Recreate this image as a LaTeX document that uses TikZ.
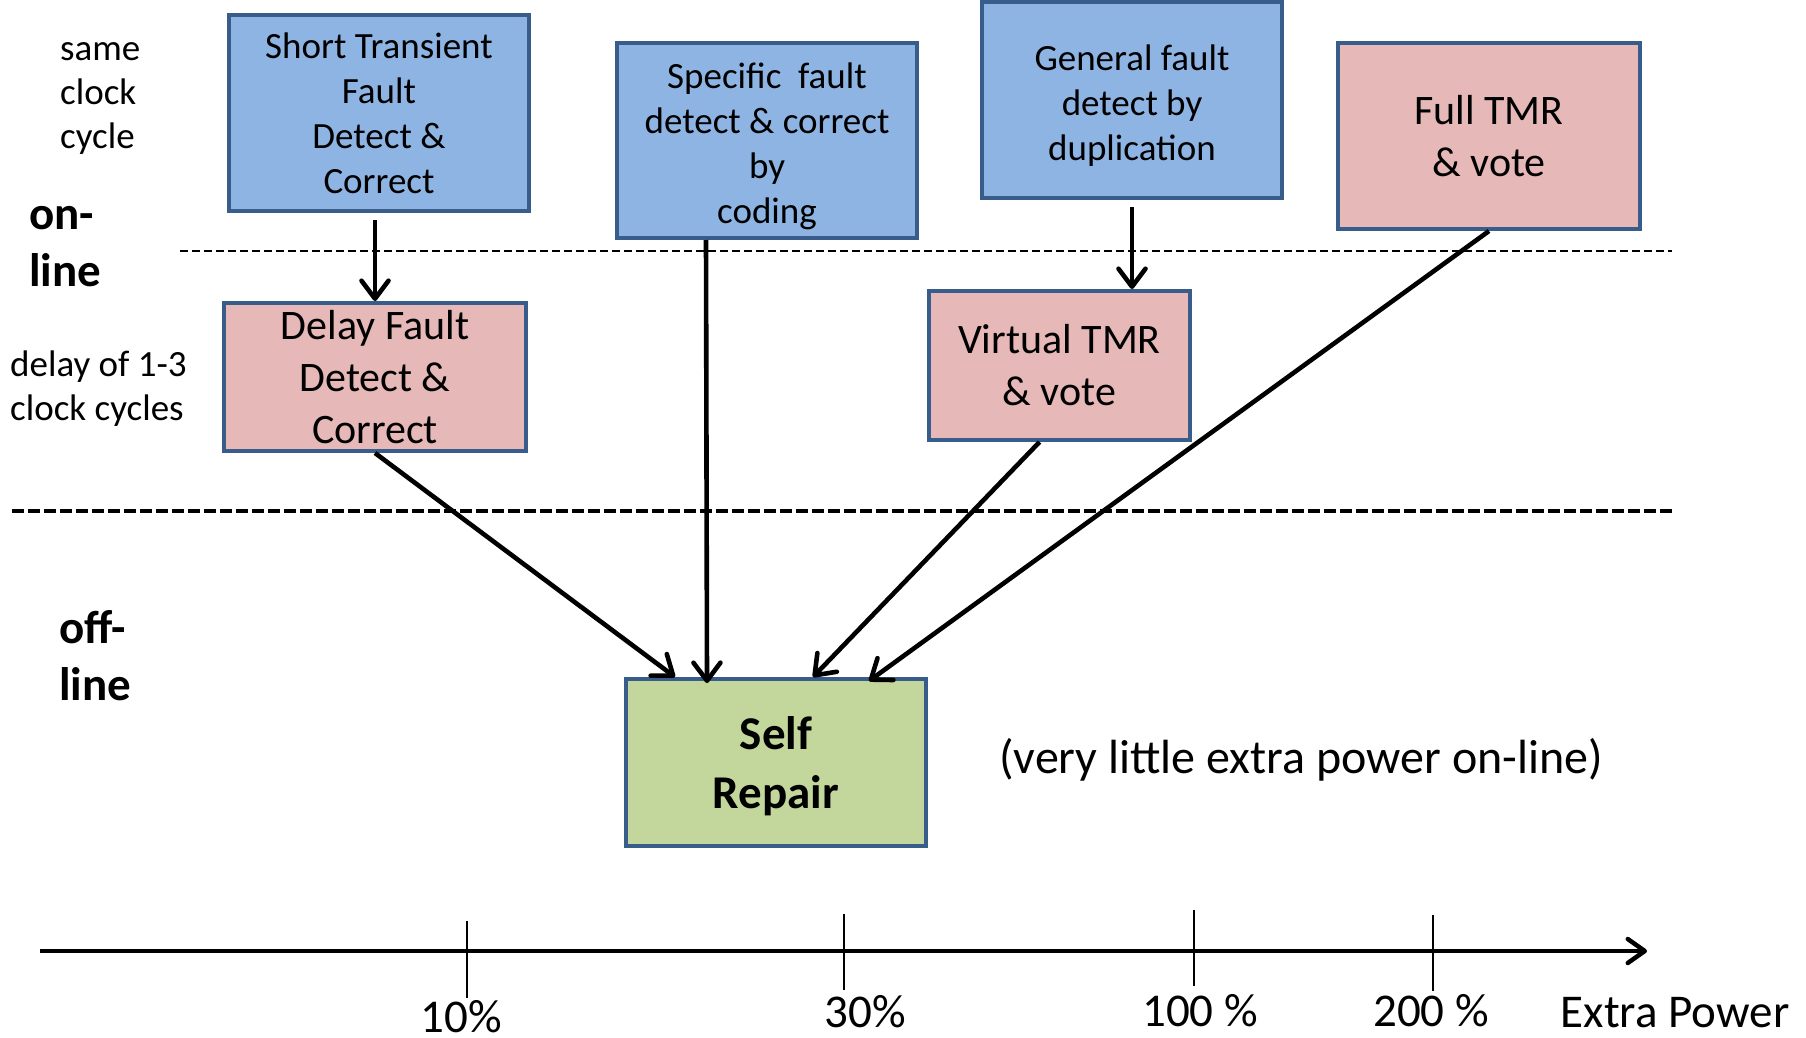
\documentclass[tikz,border=0pt]{standalone}
\usepackage{fontspec}
\setmainfont{Carlito}
\usetikzlibrary{arrows.meta,calc}
\definecolor{bordc}{RGB}{56,93,138}
\definecolor{bluef}{RGB}{142,180,227}
\definecolor{pinkf}{RGB}{230,185,184}
\definecolor{greenf}{RGB}{195,214,155}
\tikzset{
  box/.style={draw=bordc, line width=4pt, inner sep=0pt, align=center,
    font=\fontsize{37}{45}\selectfont},
  bluebox/.style={box, fill=bluef},
  pinkbox/.style={box, fill=pinkf, font=\fontsize{42}{52}\selectfont},
  greenbox/.style={box, fill=greenf, font=\bfseries\fontsize{47}{59}\selectfont},
  small/.style={inner sep=0pt, align=left, font=\fontsize{37}{44}\selectfont},
  big/.style={inner sep=0pt, align=left, font=\bfseries\fontsize{47}{57}\selectfont},
  axlbl/.style={inner sep=0pt, anchor=base, font=\fontsize{47}{56}\selectfont},
  conn/.style={line width=4.6pt, -{Straight Barb[length=18pt,width=27pt,round]}},
  tick/.style={line width=1.8pt},
}
\begin{document}
\begin{tikzpicture}[x=1pt,y=-1pt]
\useasboundingbox (0,0) rectangle (1806,1038);

% separating dashed lines
\coordinate (d1a) at (180,251);
\coordinate (d1b) at (1672,251);
\coordinate (d2a) at (12,511);
\coordinate (d2b) at (1672,511);
\draw[line width=2.2pt, dash pattern=on 8pt off 4pt] (d1a) -- (d1b);
\draw[line width=4.2pt, dash pattern=on 12pt off 4pt] (d2a) -- (d2b);

% boxes
\node[bluebox, minimum width=300pt, minimum height=196pt] (st) at (379,113)
  {Short Transient\\Fault\\Detect \&\\Correct};
\node[bluebox, minimum width=300pt, minimum height=195pt] (sf) at (767,140.5)
  {\rule{0pt}{37pt}Specific\ \ fault\\detect \& correct\\by\\coding};
\node[bluebox, minimum width=300pt, minimum height=196pt] (gf) at (1132,100)
  {\rule{0pt}{37pt}General fault\\detect by\\duplication};
\node[pinkbox, minimum width=302pt, minimum height=186pt] (ft) at (1489,136)
  {Full TMR\\\& vote};
\node[pinkbox, minimum width=302pt, minimum height=148pt] (df) at (375,377)
  {Delay Fault\\Detect \&\\Correct};
\node[pinkbox, minimum width=261pt, minimum height=149pt] (vt) at (1059.5,365.5)
  {Virtual TMR\\\& vote};
\node[greenbox, minimum width=300pt, minimum height=167pt] (sr) at (776,762.5)
  {\rule{0pt}{40pt}Self\\Repair};

% side labels
\node[small, anchor=west] (same) at (60,98) {same\\clock\\cycle};
\node[big, anchor=west] (on) at (29,247) {on-\\line};
\node[small, anchor=west] (dly) at (10,389) {delay of 1-3\\clock cycles};
\node[big, anchor=west] (off) at (59,656) {off-\\line};
\node[inner sep=0pt, anchor=west, font=\fontsize{48}{57}\selectfont] (note) at (999,760)
  {(very little extra power on-line)};

% connectors
\draw[conn] ($(st.south -| df.north)+(0,7)$) -- (df.north);
\draw[conn] ($(gf.south)+(0,7)$) -- (gf.south |- vt.north);
\draw[conn] (df.south) -- ($(sr.north)+(-101,0)$);
\draw[conn] ($(sf.south)+(-61,0)$) -- ($(sr.north)+(-69,6)$);
\draw[conn] ($(vt.south)+(-20,0)$) -- ($(sr.north)+(37,0)$);
\draw[conn] (ft.south) -- ($(sr.north)+(93,4)$);

% axis
\coordinate (ax0) at (40,951);
\coordinate (ax1) at (1647,951);
\draw[line width=4.5pt, -{Straight Barb[length=17pt,width=24pt,round]}] (ax0) -- (ax1);
\coordinate (t1a) at (467,921);  \coordinate (t1b) at (467,998);
\coordinate (t2a) at (844,914);  \coordinate (t2b) at (844,990);
\coordinate (t3a) at (1194,910); \coordinate (t3b) at (1194,986);
\coordinate (t4a) at (1433,915); \coordinate (t4b) at (1433,991);
\draw[tick] (t1a) -- (t1b);
\draw[tick] (t2a) -- (t2b);
\draw[tick] (t3a) -- (t3b);
\draw[tick] (t4a) -- (t4b);
\node[axlbl] (l1) at (461,1032) {10\%};
\node[axlbl] (l2) at (865,1027) {30\%};
\node[axlbl] (l3) at (1200,1026) {100 \%};
\node[axlbl] (l4) at (1431,1026) {200 \%};
\node[axlbl] (l5) at (1675,1027) {Extra Power};
\end{tikzpicture}
\end{document}
